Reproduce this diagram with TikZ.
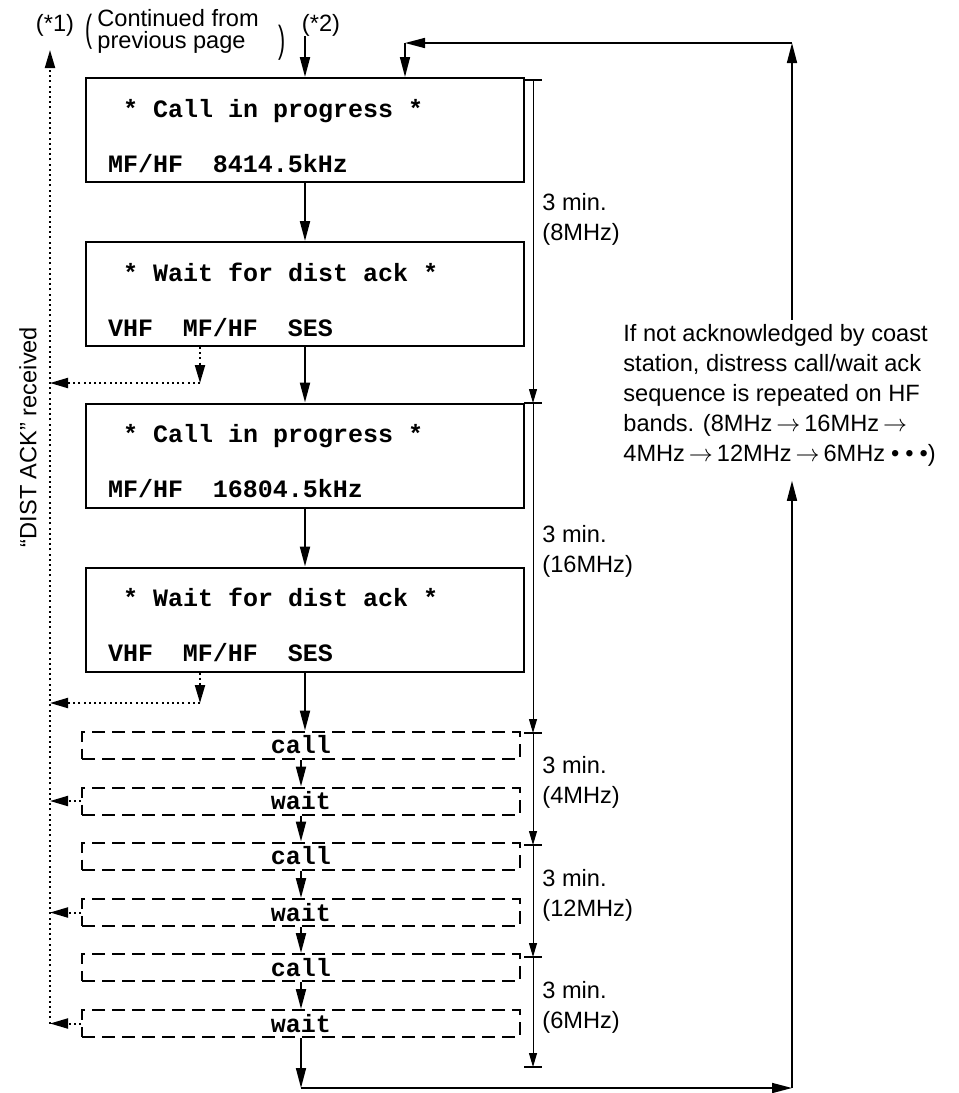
\documentclass[tikz,border=0pt]{standalone}
\usepackage{fontspec}
\setmainfont{Liberation Sans}
\setmonofont{Liberation Mono}
\usepackage{tikz}
\usetikzlibrary{arrows.meta,positioning}
\newcommand{\gap}{\hspace{1.2em}}
\newcommand{\lcdstart}{\spaceskip=0.6em\relax\rule{0pt}{15pt}\hspace*{0.6em}}
\tikzset{
    lcd-box/.style = {draw, line width=1pt, rectangle, minimum height=52pt, text width=197pt, inner xsep=11pt, align=left, font=\ttfamily\bfseries\fontsize{12.5}{14}\selectfont},
    ghost-box/.style = {draw, line width=1pt, dash pattern=on 6.5pt off 3.5pt, rectangle, minimum width=219pt, minimum height=13.5pt, inner sep=0pt, font=\ttfamily\bfseries\fontsize{12.5}{14}\selectfont},
    flow/.style = {line width=1pt, -{Triangle[length=10pt,width=5pt]}},
    loop-line/.style = {line width=0.8pt, -{Triangle[length=10pt,width=5pt]}},
    ack/.style = {line width=1pt, dash pattern=on 1pt off 1.6pt, -{Triangle[length=9pt,width=5pt]}},
    time-line/.style = {line width=0.5pt, -{Triangle[length=7pt,width=4pt]}},
    note/.style = {inner sep=0pt, align=left, font=\fontsize{11.8}{15}\selectfont},
    paren/.style = {inner sep=0pt, font=\fontsize{11.8}{11.8}\selectfont},
}

\begin{document}
\begin{tikzpicture}[x=0.5pt,y=-0.5pt]
\useasboundingbox (0,0) rectangle (959,1093);

% headings
\node[note] (star1) at (55,25) {(*1)};
\node[note] (star2) at (321,25) {(*2)};
\node[note, anchor=west, font=\fontsize{11.8}{11}\selectfont] (cont) at (97,31) {Continued from\\previous page};
\node[paren] (cont-l) at (89,32) {\scalebox{0.9}[1.6]{(}};
\node[paren] (cont-r) at (282,43) {\scalebox{0.9}[1.6]{)}};

% displays
\node[lcd-box] (call1) at (305,130) {\lcdstart* Call in progress *\\[13.5pt]MF/HF\gap 8414.5kHz};
\node[lcd-box] (wait1) at (305,294) {\lcdstart* Wait for dist ack *\\[13.5pt]VHF\gap MF/HF\gap SES};
\node[lcd-box] (call2) at (305,455.5) {\lcdstart* Call in progress *\\[13.5pt]MF/HF\gap 16804.5kHz};
\node[lcd-box] (wait2) at (305,619.5) {\lcdstart* Wait for dist ack *\\[13.5pt]VHF\gap MF/HF\gap SES};

\node[ghost-box] (call-a) at (301,745) {call};
\node[ghost-box] (wait-a) at (301,801) {wait};
\node[ghost-box] (call-b) at (301,856) {call};
\node[ghost-box] (wait-b) at (301,912.5) {wait};
\node[ghost-box] (call-c) at (301,967.5) {call};
\node[ghost-box] (wait-c) at (301,1023.5) {wait};

% main flow
\draw[flow] (call1.north |- star2.south) -- (call1.north);
\draw[flow] (call1.south) -- (wait1.north);
\draw[flow] (wait1.south) -- (call2.north);
\draw[flow] (call2.south) -- (wait2.north);
\draw[flow] (wait2.south) -- (wait2.south |- call-a.north);
\draw[flow] (call-a.south) -- (wait-a.north);
\draw[flow] (wait-a.south) -- (call-b.north);
\draw[flow] (call-b.south) -- (wait-b.north);
\draw[flow] (wait-b.south) -- (call-c.north);
\draw[flow] (call-c.south) -- (wait-c.north);

% acknowledgement path
\coordinate (ack-top) at (50,50);
\coordinate (ack-bot) at (50,1023.5);
\coordinate (ack-1) at (200,383);
\coordinate (ack-2) at (200,703);
\draw[ack] (ack-bot) -- (ack-top);
\draw[ack] (wait1.south -| ack-1) -- (ack-1);
\draw[ack] (ack-1) -- (ack-1 -| ack-top);
\draw[ack] (wait2.south -| ack-2) -- (ack-2);
\draw[ack] (ack-2) -- (ack-2 -| ack-top);
\foreach \w in {wait-a,wait-b,wait-c}
    \draw[ack] (\w.west) -- (\w.west -| ack-top);
\node[note, rotate=90] (ack-label) at (28,437) {“DIST ACK” received};

% timing
\coordinate (t0) at (533,80);
\coordinate (t1) at (533,403);
\coordinate (t2) at (533,733);
\coordinate (t3) at (533,845);
\coordinate (t4) at (533,957);
\coordinate (t5) at (533,1067);
\foreach \t in {t0,t1,t2,t3,t4,t5}
    \draw[line width=0.8pt] ([xshift=-4.5pt]\t) -- ([xshift=4.5pt]\t);
\foreach \a/\b in {t0/t1,t1/t2,t2/t3,t3/t4,t4/t5}
    \draw[time-line] (\a) -- (\b);
\node[note, anchor=west] (min-8) at (542,219) {3 min.\\(8MHz)};
\node[note, anchor=west] (min-16) at (542,551) {3 min.\\(16MHz)};
\node[note, anchor=west] (min-4) at (542,782) {3 min.\\(4MHz)};
\node[note, anchor=west] (min-12) at (542,895) {3 min.\\(12MHz)};
\node[note, anchor=west] (min-6) at (542,1007.5) {3 min.\\(6MHz)};

% repeat loop
\node[note, anchor=north west] (repeat) at (623,324) {If not acknowledged by coast\\station, distress call/wait ack\\sequence is repeated on HF\\bands. (8MHz\,$\rightarrow$\,16MHz\,$\rightarrow$\\4MHz\,$\rightarrow$\,12MHz\,$\rightarrow$\,6MHz\hspace{3pt}\textbullet\hspace{3pt}\textbullet\hspace{3pt}\textbullet)};
\coordinate (loop-b) at (301,1088);
\coordinate (loop-br) at (792,1088);
\coordinate (loop-tr) at (792,43);
\coordinate (loop-tl) at (405,43);
\draw[loop-line] (wait-c.south) -- (loop-b);
\draw[loop-line] (loop-b) -- (loop-br);
\draw[loop-line] (loop-br) -- ([yshift=-7pt]repeat.south -| loop-br);
\draw[loop-line] ([yshift=2pt]repeat.north -| loop-tr) -- (loop-tr);
\draw[loop-line] (loop-tr) -- (loop-tl);
\draw[loop-line] (loop-tl) -- (loop-tl |- call1.north);
\end{tikzpicture}
\end{document}
